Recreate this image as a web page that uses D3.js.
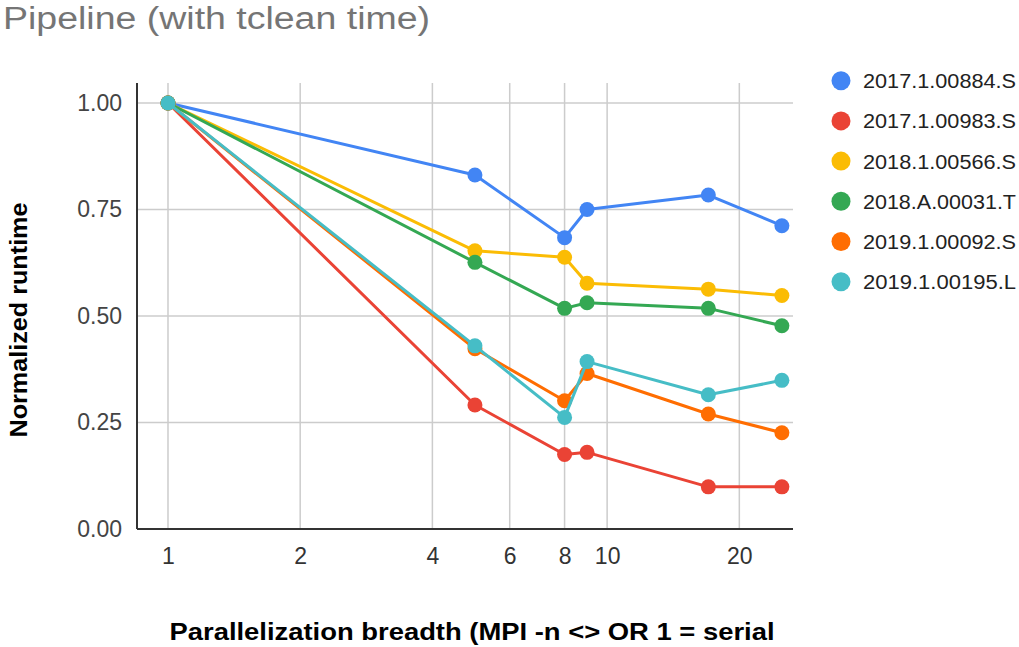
<!DOCTYPE html>
<html>
<head>
<meta charset="utf-8">
<script src="https://cdn.jsdelivr.net/npm/d3@7"></script>
<style>
  html, body { margin: 0; padding: 0; background: #fff; }
  svg { display: block; font-family: "Liberation Sans", Arial, sans-serif; }
</style>
</head>
<body>
<svg id="chart" width="1019" height="647"></svg>
<script>
// Parallelization breadth (number of MPI processes; 1 = serial)
const breadth = [1, 5, 8, 9, 17, 25];

// Normalized runtime per dataset
const seriesNames = [
  "2017.1.00884.S",
  "2017.1.00983.S",
  "2018.1.00566.S",
  "2018.A.00031.T",
  "2019.1.00092.S",
  "2019.1.00195.L"
];
const runtime_2017_1_00884_S = [1.00, 0.831, 0.684, 0.750, 0.784, 0.712];
const runtime_2017_1_00983_S = [1.00, 0.291, 0.175, 0.180, 0.099, 0.099];
const runtime_2018_1_00566_S = [1.00, 0.653, 0.638, 0.577, 0.563, 0.548];
const runtime_2018_A_00031_T = [1.00, 0.626, 0.518, 0.531, 0.518, 0.477];
const runtime_2019_1_00092_S = [1.00, 0.423, 0.301, 0.365, 0.270, 0.226];
const runtime_2019_1_00195_L = [1.00, 0.430, 0.262, 0.393, 0.315, 0.349];
const seriesColors = ["#4285F4", "#EA4335", "#FBBC04", "#34A853", "#FF6D01", "#46BDC6"];

const xTicks = [1, 2, 4, 6, 8, 10, 20];
const yTicks = [0, 0.25, 0.5, 0.75, 1.0];

const allRuntimes = [
  runtime_2017_1_00884_S, runtime_2017_1_00983_S, runtime_2018_1_00566_S,
  runtime_2018_A_00031_T, runtime_2019_1_00092_S, runtime_2019_1_00195_L
];
const series = seriesNames.map((name, i) => ({
  name,
  color: seriesColors[i],
  points: breadth.map((b, j) => ({ x: b, y: allRuntimes[i][j] }))
}));

const svg = d3.select("#chart");
const plot = { left: 137, right: 793, top: 83, bottom: 529 };

const x = d3.scaleLog().domain([0.85, 26.5]).range([plot.left, plot.right]);
const y = d3.scaleLinear().domain([0, 1.047]).range([plot.bottom, plot.top]);

// Title
svg.append("text")
  .attr("x", 3).attr("y", 29)
  .attr("font-size", 31).attr("fill", "#757575")
  .attr("textLength", 427).attr("lengthAdjust", "spacingAndGlyphs")
  .text("Pipeline (with tclean time)");

// Gridlines
const grid = svg.append("g");
grid.selectAll("line.vx").data(xTicks).join("line")
  .attr("x1", d => x(d)).attr("x2", d => x(d))
  .attr("y1", plot.top).attr("y2", plot.bottom)
  .attr("stroke", "#cccccc").attr("stroke-width", 1.5);
grid.selectAll("line.hy").data(yTicks.filter(d => d > 0)).join("line")
  .attr("x1", plot.left).attr("x2", plot.right)
  .attr("y1", d => y(d)).attr("y2", d => y(d))
  .attr("stroke", "#cccccc").attr("stroke-width", 1.5);

// Axes
const xAxis = svg.append("g")
  .attr("transform", `translate(0,${plot.bottom})`)
  .call(d3.axisBottom(x).tickValues(xTicks).tickFormat(d3.format("d")).tickSize(0).tickPadding(19));
xAxis.select(".domain").attr("stroke", "#333").attr("stroke-width", 2)
  .attr("d", `M${plot.left},0H${plot.right}`);
xAxis.selectAll("text").attr("font-size", 23).attr("fill", "#333")
  .attr("font-family", "Liberation Sans, Arial, sans-serif");

const yAxis = svg.append("g")
  .attr("transform", `translate(${plot.left},0)`)
  .call(d3.axisLeft(y).tickValues(yTicks).tickFormat(d3.format(".2f")).tickSize(0).tickPadding(15));
yAxis.select(".domain").attr("stroke", "#333").attr("stroke-width", 2)
  .attr("d", `M0,${plot.top}V${plot.bottom}`);
yAxis.selectAll("text").attr("font-size", 23).attr("fill", "#444")
  .attr("font-family", "Liberation Sans, Arial, sans-serif");

// Axis titles
svg.append("text")
  .attr("x", 472).attr("y", 640)
  .attr("text-anchor", "middle")
  .attr("font-size", 24).attr("font-weight", "bold").attr("fill", "#000")
  .attr("textLength", 605).attr("lengthAdjust", "spacingAndGlyphs")
  .text("Parallelization breadth (MPI -n <> OR 1 = serial");

svg.append("text")
  .attr("transform", "translate(27,320) rotate(-90)")
  .attr("text-anchor", "middle")
  .attr("font-size", 24).attr("font-weight", "bold").attr("fill", "#000")
  .attr("textLength", 235).attr("lengthAdjust", "spacingAndGlyphs")
  .text("Normalized runtime");

// Lines and points
const line = d3.line().x(d => x(d.x)).y(d => y(d.y));
const marks = svg.append("g");
series.forEach(s => {
  const g = marks.append("g");
  g.append("path")
    .attr("d", line(s.points))
    .attr("fill", "none").attr("stroke", s.color).attr("stroke-width", 3)
    .attr("stroke-linejoin", "round");
  g.selectAll("circle").data(s.points).join("circle")
    .attr("cx", d => x(d.x)).attr("cy", d => y(d.y))
    .attr("r", 7.5).attr("fill", s.color);
});

// Legend
const legend = svg.append("g");
const leg = legend.selectAll("g").data(series).join("g")
  .attr("transform", (d, i) => `translate(841,${80.7 + i * 40.2})`);
leg.append("circle").attr("r", 9.5).attr("fill", d => d.color);
leg.append("text")
  .attr("x", 22).attr("y", 7.5)
  .attr("font-size", 20).attr("fill", "#222")
  .attr("textLength", 153).attr("lengthAdjust", "spacingAndGlyphs")
  .text(d => d.name);
</script>
</body>
</html>
